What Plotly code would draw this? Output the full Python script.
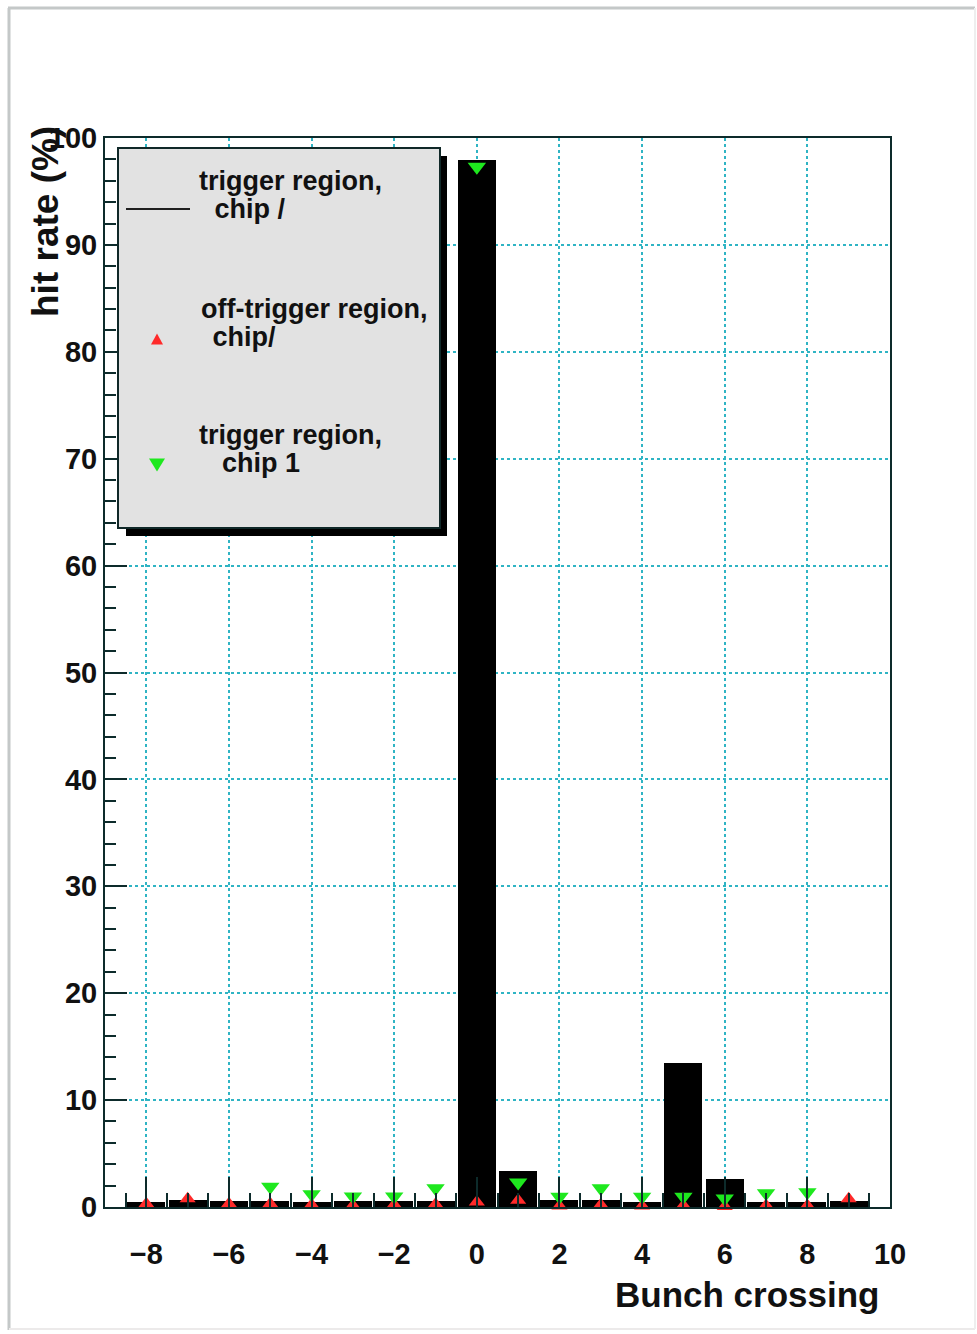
import plotly.graph_objects as go

# Bunch-crossing bins and measured hit rates (%)
bunch = [-8, -7, -6, -5, -4, -3, -2, -1, 0, 1, 2, 3, 4, 5, 6, 7, 8, 9]
trig_chip0 = [0.5, 0.65, 0.55, 0.55, 0.5, 0.6, 0.55, 0.55, 97.9, 3.4,
              0.65, 0.65, 0.5, 13.5, 2.6, 0.5, 0.5, 0.6]
offtrig_chip0 = [0.3, 0.78, 0.3, 0.3, 0.2, 0.15, 0.2, 0.25, 0.47, 0.63,
                 0.1, 0.2, 0.1, 0.15, 0.05, 0.15, 0.15, 0.78]
bunch_chip1 = [-5, -4, -3, -2, -1, 0, 1, 2, 3, 4, 5, 6, 7, 8]
trig_chip1 = [1.9, 1.2, 0.98, 0.98, 1.75, 97.3, 2.3, 0.96, 1.75, 0.96,
              0.96, 0.8, 1.28, 1.37]

x_ticks = [-8, -6, -4, -2, 0, 2, 4, 6, 8, 10]
y_ticks = [0, 10, 20, 30, 40, 50, 60, 70, 80, 90, 100]

legend_labels = [("trigger region,", " chip /"),
                 ("off-trigger region,", " chip/"),
                 ("trigger region,", "  chip 1")]

FONT = "Liberation Sans"
AX = "#0d2b2b"
GRID = "#2fb4c4"
RED = "#ff2a2a"
GREEN = "#1ee81e"

W, H = 977, 1334
L, R, T, B = 105, 890, 138, 1207


def px(x):
    return (x - L) / (R - L)


def py(y):
    return (B - y) / (B - T)


fig = go.Figure()

fig.add_trace(go.Bar(
    x=bunch, y=trig_chip0, width=0.92,
    marker=dict(color="black", line=dict(width=0)),
    showlegend=False,
))
fig.add_trace(go.Scatter(
    x=bunch, y=offtrig_chip0, mode="markers", cliponaxis=False,
    marker=dict(symbol="triangle-up", size=14, color=RED, line=dict(width=0)),
    showlegend=False,
))
fig.add_trace(go.Scatter(
    x=bunch_chip1, y=trig_chip1, mode="markers", cliponaxis=False,
    marker=dict(symbol="triangle-down", size=16, color=GREEN, line=dict(width=0)),
    showlegend=False,
))

shapes = []
annotations = []

# canvas frame
for (x0, y0, x1, y1, c, w) in [
    (8, 8, 975, 8, "#c4c8c8", 3), (9, 8, 9, 1330, "#c4c8c8", 3),
    (9, 1329, 975, 1329, "#eceaea", 2), (975, 8, 975, 1329, "#eeeeee", 2),
]:
    shapes.append(dict(type="line", xref="paper", yref="paper",
                       x0=px(x0), y0=py(y0), x1=px(x1), y1=py(y1),
                       line=dict(color=c, width=w), layer="above"))

# legend box with drop shadow
shapes.append(dict(type="rect", xref="paper", yref="paper",
                   x0=px(126), y0=py(156), x1=px(447), y1=py(536),
                   fillcolor="black", line=dict(width=0), layer="above"))
shapes.append(dict(type="rect", xref="paper", yref="paper",
                   x0=px(118), y0=py(148), x1=px(440), y1=py(528),
                   fillcolor="#e2e2e2", line=dict(color="#102828", width=2),
                   layer="above"))
# legend symbols
shapes.append(dict(type="line", xref="paper", yref="paper",
                   x0=px(126), y0=py(209), x1=px(190), y1=py(209),
                   line=dict(color="#202020", width=2), layer="above"))


def tri_path(cx, cy, half_w, h, up=True):
    if up:
        pts = [(cx - half_w, cy + h / 2), (cx + half_w, cy + h / 2), (cx, cy - h / 2)]
    else:
        pts = [(cx - half_w, cy - h / 2), (cx + half_w, cy - h / 2), (cx, cy + h / 2)]
    return "M " + " L ".join(f"{px(a):.5f},{py(b):.5f}" for a, b in pts) + " Z"


shapes.append(dict(type="path", xref="paper", yref="paper",
                   path=tri_path(157, 339, 6, 11, True),
                   fillcolor=RED, line=dict(width=0), layer="above"))
shapes.append(dict(type="path", xref="paper", yref="paper",
                   path=tri_path(157, 465, 8, 13, False),
                   fillcolor=GREEN, line=dict(width=0), layer="above"))

legend_pos = [(197, 181, 205, 209), (199, 309, 203, 337), (197, 435, 205, 463)]
for (l1, l2), (x1, y1, x2, y2) in zip(legend_labels, legend_pos):
    annotations.append(dict(text=f"<b>{l1}</b>", xref="paper", yref="paper",
                            x=px(x1), y=py(y1), xanchor="left", yanchor="middle",
                            showarrow=False,
                            font=dict(family=FONT, size=27, color="#111")))
    annotations.append(dict(text=f"<b>{l2}</b>", xref="paper", yref="paper",
                            x=px(x2), y=py(y2), xanchor="left", yanchor="middle",
                            showarrow=False,
                            font=dict(family=FONT, size=27, color="#111")))

# axis titles
annotations.append(dict(text="<b>hit rate (%)</b>", xref="paper", yref="paper",
                        x=px(45), y=py(222), xanchor="center", yanchor="middle",
                        textangle=-90, showarrow=False,
                        font=dict(family=FONT, size=37, color="#111")))
annotations.append(dict(text="<b>Bunch crossing</b>", xref="paper", yref="paper",
                        x=px(881), y=py(1294), xanchor="right", yanchor="middle",
                        showarrow=False,
                        font=dict(family=FONT, size=35, color="#111")))

fig.update_layout(
    width=W, height=H,
    margin=dict(l=L, r=W - R, t=T, b=H - B),
    paper_bgcolor="white", plot_bgcolor="white",
    bargap=0, showlegend=False,
    shapes=shapes, annotations=annotations,
    font=dict(family=FONT, color="#111"),
)
fig.update_xaxes(
    range=[-9, 10], tickvals=x_ticks, ticktext=[f"<b>{v}</b>".replace("-", "\u2212") for v in x_ticks],
    ticks="inside", ticklen=30, tickwidth=2, tickcolor=AX,
    showline=True, linecolor=AX, linewidth=2, mirror=True,
    showgrid=True, gridcolor=GRID, griddash="dot", gridwidth=2,
    zeroline=False, ticklabelstandoff=20,
    tickfont=dict(family=FONT, size=29, color="#111"),
    minor=dict(dtick=0.5, tick0=0, ticks="inside", ticklen=14, tickwidth=2,
               tickcolor=AX, showgrid=False),
)
fig.update_yaxes(
    range=[0, 100], tickvals=y_ticks, ticktext=[f"<b>{v}</b>" for v in y_ticks],
    ticks="inside", ticklen=22, tickwidth=2, tickcolor=AX,
    showline=True, linecolor=AX, linewidth=2, mirror=True,
    showgrid=True, gridcolor=GRID, griddash="dot", gridwidth=2,
    zeroline=False, ticklabelstandoff=0,
    tickfont=dict(family=FONT, size=29, color="#111"),
    minor=dict(dtick=2, tick0=0, ticks="inside", ticklen=11, tickwidth=2,
               tickcolor=AX, showgrid=False),
)

fig.write_html("out.html")
